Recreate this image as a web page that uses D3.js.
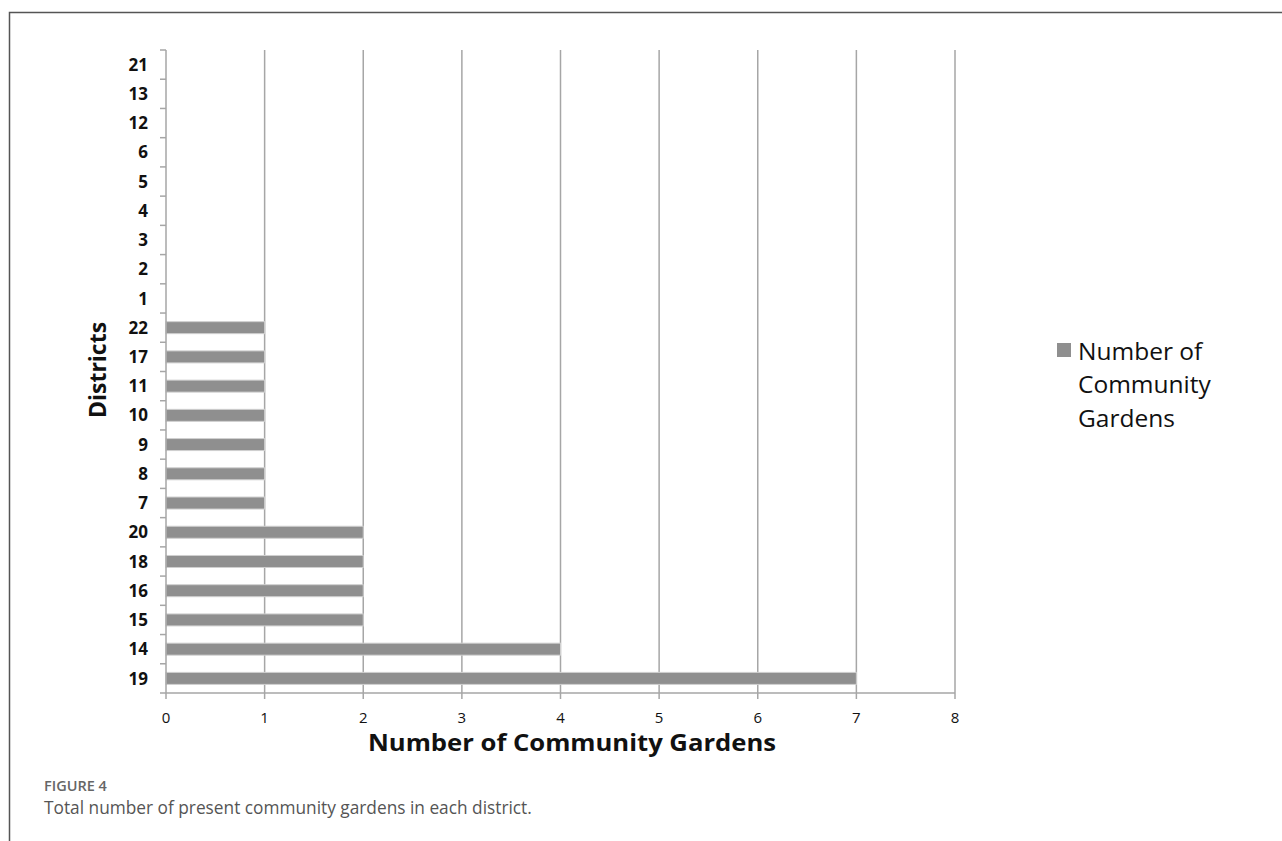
<!DOCTYPE html>
<html>
<head>
<meta charset="utf-8">
<script src="https://cdn.jsdelivr.net/npm/d3@7"></script>
<style>
  body { margin: 0; background: #fff; }
  svg { display: block; }
</style>
</head>
<body>
<div class="chart"></div>
<script>
// districts, top to bottom as in the figure
var districts = ["21", "13", "12", "6", "5", "4", "3", "2", "1", "22", "17", "11", "10", "9", "8", "7", "20", "18", "16", "15", "14", "19"];
var gardens = [0, 0, 0, 0, 0, 0, 0, 0, 0, 1, 1, 1, 1, 1, 1, 1, 2, 2, 2, 2, 4, 7];
var xTicks = [0, 1, 2, 3, 4, 5, 6, 7, 8];
var seriesName = ["Number of", "Community", "Gardens"];

var W = 1282, H = 841;
var mLeft = 166, mRight = 955, mTop = 50, mBottom = 693;
var axisGrey = "#a6a6a6";
var font = "'Open Sans', sans-serif";

var svg = d3.select(".chart").append("svg")
    .attr("width", W).attr("height", H);

// frame of the figure panel
svg.append("path")
    .attr("d", "M9.5,841 V12.5 H1282")
    .attr("fill", "none").attr("stroke", "#555").attr("stroke-width", 1.5);

var x = d3.scaleLinear().domain([0, 8]).range([mLeft, mRight]);
var y = d3.scaleBand().domain(districts).range([mTop, mBottom]);

// vertical grid lines
svg.selectAll(".grid").data(xTicks.slice(1))
    .enter().append("line")
    .attr("x1", d => x(d)).attr("x2", d => x(d))
    .attr("y1", mTop).attr("y2", mBottom)
    .attr("stroke", axisGrey).attr("stroke-width", 1.5);

// bars
var barH = 12;
svg.selectAll(".bar").data(districts.filter((d, i) => gardens[i] > 0))
    .enter().append("rect")
    .attr("x", x(0))
    .attr("y", d => y(d) + y.bandwidth() / 2 - barH / 2)
    .attr("width", d => x(gardens[districts.indexOf(d)]) - x(0))
    .attr("height", barH)
    .attr("fill", "#8f8f8f")
    .attr("stroke", "#d0d0d0").attr("stroke-width", 1);

// y axis: line + ticks at band boundaries
svg.append("line")
    .attr("x1", mLeft).attr("x2", mLeft).attr("y1", mTop).attr("y2", mBottom)
    .attr("stroke", axisGrey).attr("stroke-width", 1.5);
var bounds = districts.map(d => y(d)).concat([mBottom]);
svg.selectAll(".ytick").data(bounds)
    .enter().append("line")
    .attr("x1", mLeft - 6).attr("x2", mLeft)
    .attr("y1", d => d).attr("y2", d => d)
    .attr("stroke", axisGrey).attr("stroke-width", 1.5);
svg.selectAll(".ylab").data(districts)
    .enter().append("text")
    .attr("x", 148)
    .attr("y", d => y(d) + y.bandwidth() / 2)
    .attr("dy", "0.36em")
    .attr("text-anchor", "end")
    .attr("font-family", font)
    .attr("font-weight", "bold")
    .attr("font-size", 17)
    .attr("fill", "#111")
    .text(d => d);

// x axis
svg.append("line")
    .attr("x1", mLeft).attr("x2", mRight).attr("y1", mBottom).attr("y2", mBottom)
    .attr("stroke", axisGrey).attr("stroke-width", 1.5);
svg.selectAll(".xtick").data(xTicks)
    .enter().append("line")
    .attr("x1", d => x(d)).attr("x2", d => x(d))
    .attr("y1", mBottom).attr("y2", mBottom + 6)
    .attr("stroke", axisGrey).attr("stroke-width", 1.5);
svg.selectAll(".xlab").data(xTicks)
    .enter().append("text")
    .attr("x", d => x(d)).attr("y", 723)
    .attr("text-anchor", "middle")
    .attr("font-family", font)
    .attr("font-size", 15)
    .attr("fill", "#111")
    .text(d => d);

// axis titles
svg.append("text")
    .attr("x", 572).attr("y", 751)
    .attr("text-anchor", "middle")
    .attr("font-family", font)
    .attr("font-weight", "bold").attr("font-size", 24)
    .attr("textLength", 408).attr("lengthAdjust", "spacingAndGlyphs")
    .attr("fill", "#111")
    .text("Number of Community Gardens");
svg.append("text")
    .attr("transform", "translate(106,370) rotate(-90)")
    .attr("text-anchor", "middle")
    .attr("font-family", font)
    .attr("font-weight", "bold").attr("font-size", 23)
    .attr("fill", "#111")
    .text("Districts");

// legend
svg.append("rect")
    .attr("x", 1057).attr("y", 343).attr("width", 14).attr("height", 14)
    .attr("fill", "#8f8f8f");
svg.selectAll(".leg").data(seriesName)
    .enter().append("text")
    .attr("x", 1078).attr("y", (d, i) => 351 + i * 33.5)
    .attr("dy", "0.36em")
    .attr("font-family", font)
    .attr("font-size", 24.5)
    .attr("fill", "#111")
    .text(d => d);

// caption
svg.append("text")
    .attr("x", 44).attr("y", 791)
    .attr("font-family", font)
    .attr("font-weight", "600").attr("font-size", 14.5)
    .attr("fill", "#666")
    .text("FIGURE 4");
svg.append("text")
    .attr("x", 44).attr("y", 814)
    .attr("font-family", font)
    .attr("font-size", 17.3)
    .attr("fill", "#555")
    .text("Total number of present community gardens in each district.");
</script>
</body>
</html>
